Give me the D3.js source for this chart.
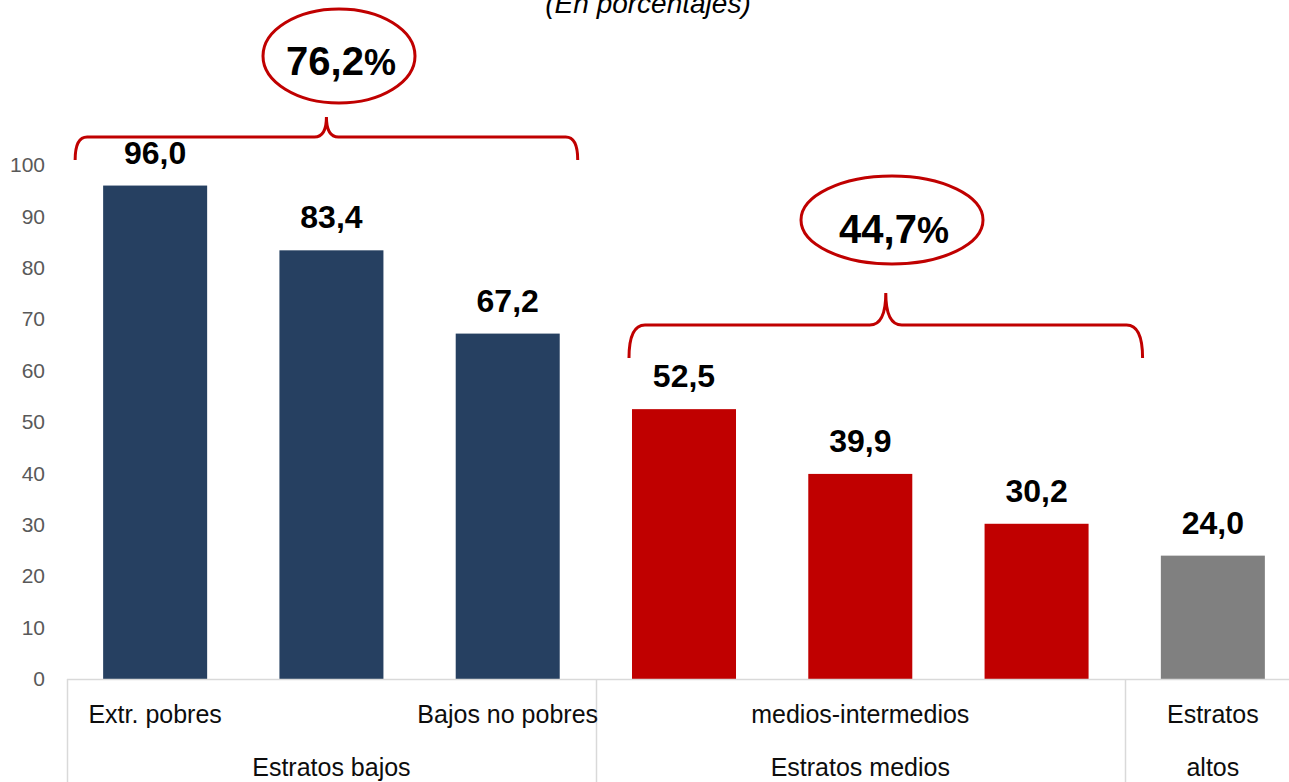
<!DOCTYPE html>
<html>
<head>
<meta charset="utf-8">
<script src="https://cdn.jsdelivr.net/npm/d3@7"></script>
<style>
  html, body { margin: 0; padding: 0; background: #fff; }
  svg { display: block; }
  text { font-family: "Liberation Sans", Arial, sans-serif; }
</style>
</head>
<body>
<svg id="chart" width="1289" height="782"></svg>
<script>
// ---- Data ----
const categories = ["c1", "c2", "c3", "c4", "c5", "c6", "c7"];
const categoryLabels = ["Extr. pobres", "", "Bajos no pobres", "", "medios-intermedios", "", "Estratos"];
const values = [96.0, 83.4, 67.2, 52.5, 39.9, 30.2, 24.0];
const groupNames = ["Estratos bajos", "Estratos medios", "altos"];
const groupSizes = [3, 3, 1];
const groupColors = ["#264061", "#C00000", "#808080"];
const yTicks = [0, 10, 20, 30, 40, 50, 60, 70, 80, 90, 100];
const groupTotals = ["76,2", "44,7"];
const title = "(En porcentajes)";

// ---- Layout ----
const W = 1289, H = 782;
const plot = { left: 67, right: 1301, top: 165, bottom: 679 };
const svg = d3.select("#chart");

const x = d3.scaleBand().domain(categories).range([plot.left, plot.right])
  .paddingInner(0.41).paddingOuter(0.205);
const y = d3.scaleLinear().domain([0, 100]).range([plot.bottom, plot.top]);

const groupOf = [];
groupSizes.forEach((n, g) => { for (let i = 0; i < n; i++) groupOf.push(g); });
const fmt = v => d3.format(".1f")(v).replace(".", ",");

// Title (partly cut at the top, as in the original)
svg.append("text").attr("x", 648).attr("y", 13).attr("text-anchor", "middle")
  .attr("font-size", 28).attr("font-style", "italic").attr("fill", "#000").text(title);

// Y axis ticks (labels only)
const yAxis = d3.axisLeft(y).tickValues(yTicks).tickSize(0).tickPadding(0);
const yg = svg.append("g").attr("transform", "translate(45,0)").call(yAxis);
yg.select(".domain").remove();
yg.selectAll("text").attr("font-size", 21).attr("fill", "#595959")
  .attr("font-family", "Liberation Sans, Arial, sans-serif");

// Bars
svg.append("g").selectAll("rect").data(values).join("rect")
  .attr("x", (d, i) => x(categories[i]))
  .attr("y", d => y(d))
  .attr("width", x.bandwidth())
  .attr("height", d => y(0) - y(d))
  .attr("fill", (d, i) => groupColors[groupOf[i]]);

// Data labels
svg.append("g").selectAll("text").data(values).join("text")
  .attr("x", (d, i) => x(categories[i]) + x.bandwidth() / 2)
  .attr("y", d => y(d) - 22)
  .attr("text-anchor", "middle")
  .attr("font-size", 32).attr("font-weight", "bold").attr("fill", "#000")
  .text(d => fmt(d));

// X axis line
const axisCol = "#d9d9d9";
svg.append("line").attr("x1", plot.left).attr("x2", plot.right)
  .attr("y1", plot.bottom + 0.5).attr("y2", plot.bottom + 0.5)
  .attr("stroke", axisCol).attr("stroke-width", 1.5);

// Group separators
let idx = 0;
const bounds = [plot.left];
groupSizes.forEach(n => { idx += n; bounds.push(idx < categories.length ? x(categories[idx]) - x.step() * x.paddingInner() / 2 : plot.right); });
svg.append("g").selectAll("line").data(bounds.slice(0, 3)).join("line")
  .attr("x1", d => Math.round(d) + 0.5).attr("x2", d => Math.round(d) + 0.5)
  .attr("y1", plot.bottom).attr("y2", H)
  .attr("stroke", axisCol).attr("stroke-width", 1.5);

// Category labels
svg.append("g").selectAll("text").data(categoryLabels).join("text")
  .attr("x", (d, i) => x(categories[i]) + x.bandwidth() / 2)
  .attr("y", 723).attr("text-anchor", "middle")
  .attr("font-size", 25).attr("fill", "#0d0d0d").text(d => d);

// Group labels
svg.append("g").selectAll("text").data(groupNames).join("text")
  .attr("x", (d, g) => {
    const start = d3.sum(groupSizes.slice(0, g));
    const end = start + groupSizes[g] - 1;
    return (x(categories[start]) + x(categories[end]) + x.bandwidth()) / 2;
  })
  .attr("y", 776).attr("text-anchor", "middle")
  .attr("font-size", 25).attr("fill", "#0d0d0d").text(d => d);

// Annotations: braces + ellipses
const red = "#C00000";
const braces = [
  { x0: x(categories[0]) - 28, x1: x(categories[2]) + x.bandwidth() + 18, yb: 160, yh: 137, yt: 117, r: 12,
    cx: 339, cy: 56, rx: 76, ry: 47, ty: 75, label: groupTotals[0] },
  { x0: x(categories[3]) - 3, x1: x(categories[5]) + x.bandwidth() + 54, yb: 358, yh: 325, yt: 293, r: 16,
    cx: 892, cy: 220, rx: 91, ry: 44, ty: 243, label: groupTotals[1] }
];
braces.forEach(b => {
  const xm = (b.x0 + b.x1) / 2;
  const p = `M${b.x0},${b.yb} Q${b.x0},${b.yh} ${b.x0 + b.r},${b.yh} L${xm - b.r},${b.yh} Q${xm},${b.yh} ${xm},${b.yt} Q${xm},${b.yh} ${xm + b.r},${b.yh} L${b.x1 - b.r},${b.yh} Q${b.x1},${b.yh} ${b.x1},${b.yb}`;
  svg.append("path").attr("d", p).attr("fill", "none").attr("stroke", red).attr("stroke-width", 3);
  svg.append("ellipse").attr("cx", b.cx).attr("cy", b.cy).attr("rx", b.rx).attr("ry", b.ry)
    .attr("fill", "#fff").attr("stroke", red).attr("stroke-width", 3);
  const t = svg.append("text").attr("x", b.cx + 2).attr("y", b.ty).attr("text-anchor", "middle")
    .attr("font-weight", "bold").attr("fill", "#000");
  t.append("tspan").attr("font-size", 40).text(b.label);
  t.append("tspan").attr("font-size", 36).text("%");
});
</script>
</body>
</html>
